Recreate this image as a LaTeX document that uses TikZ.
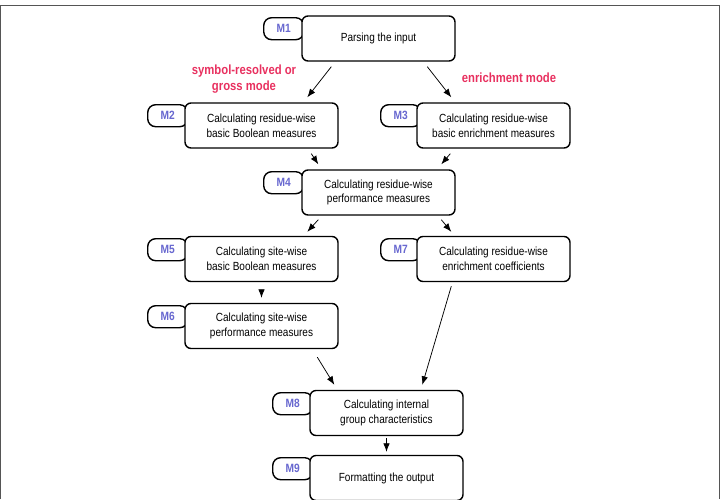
\documentclass[tikz,border=0pt]{standalone}
\usepackage{fontspec}
\setmainfont[FakeStretch=0.85]{Liberation Sans}
\usetikzlibrary{arrows.meta}
\definecolor{tagblue}{HTML}{6868D0}
\definecolor{modered}{HTML}{E8305F}
\definecolor{framegray}{HTML}{555555}
\tikzset{
  stepbox/.style={draw=black, line width=1.4pt, rounded corners=6pt, fill=white,
    minimum width=153pt, minimum height=45pt, inner sep=0pt, align=center,
    font=\fontsize{11.8}{14.7}\selectfont},
  tagbox/.style={draw=black, line width=1.4pt, rounded corners=8pt, fill=white,
    minimum width=40pt, minimum height=22pt, inner sep=0pt, anchor=north west,
    text width=36pt, align=center, text=tagblue, font=\fontsize{12}{14}\selectfont\bfseries},
  modelabel/.style={text=modered, align=center, font=\fontsize{13.3}{16}\selectfont\bfseries},
  arr/.style={draw=black, line width=0.75pt, -{Latex[length=8.5pt,width=6.5pt]}},
}
\begin{document}
\begin{tikzpicture}[x=1pt,y=-1pt]
\useasboundingbox (0,0) rectangle (720,499);
\begin{scope}
\clip (0,0) rectangle (720,499);
% frame
\draw[framegray, line width=1pt] (0.5,499) -- (0.5,5.5) -- (719.5,5.5) -- (719.5,499);
% tags
\node[tagbox] (t1) at (263,17) {M1};
\node[tagbox] (t2) at (147,104) {M2};
\node[tagbox] (t3) at (380,104) {M3};
\node[tagbox] (t4) at (263,171) {M4};
\node[tagbox] (t5) at (147,238) {M5};
\node[tagbox] (t7) at (380,238) {M7};
\node[tagbox] (t6) at (147,305) {M6};
\node[tagbox] (t8) at (272,392) {M8};
\node[tagbox] (t9) at (272,457) {M9};
% boxes
\node[stepbox] (m1) at (378.5,38.5) {Parsing the input};
\node[stepbox] (m2) at (261.5,125.5) {Calculating residue-wise\\basic Boolean measures};
\node[stepbox] (m3) at (493.5,125.5) {Calculating residue-wise\\basic enrichment measures};
\node[stepbox] (m4) at (378.5,192.5) {Calculating residue-wise\\performance measures};
\node[stepbox] (m5) at (261.5,259) {Calculating site-wise\\basic Boolean measures};
\node[stepbox] (m7) at (493.5,259) {Calculating residue-wise\\enrichment coefficients};
\node[stepbox] (m6) at (261.5,326) {Calculating site-wise\\performance measures};
\node[stepbox] (m8) at (386.5,413) {Calculating internal\\group characteristics};
\node[stepbox] (m9) at (386.5,478) {Formatting the output};
% mode labels
\node[modelabel] (l1) at (244,79) {symbol-resolved or\\gross mode};
\node[modelabel] (l2) at (509,78) {enrichment mode};
% connectors
\draw[arr] ([xshift=30pt,yshift=-5pt]m1.south west) -- ([xshift=123pt,yshift=5pt]m2.north west);
\draw[arr] ([xshift=126pt,yshift=-5pt]m1.south west) -- ([xshift=35pt,yshift=5pt]m3.north west);
\draw[arr] ([xshift=127pt,yshift=-5pt]m2.south west) -- ([xshift=17pt,yshift=5pt]m4.north west);
\draw[arr] ([xshift=34pt,yshift=-5pt]m3.south west) -- ([xshift=140pt,yshift=5pt]m4.north west);
\draw[arr] ([xshift=17pt,yshift=-4pt]m4.south west) -- ([xshift=123pt,yshift=4pt]m5.north west);
\draw[arr] ([xshift=140pt,yshift=-4pt]m4.south west) -- ([xshift=35pt,yshift=4pt]m7.north west);
\draw[arr] ([yshift=-8pt]m5.south) -- ([yshift=5pt]m6.north);
\draw[arr] ([xshift=133pt,yshift=-8pt]m6.south west) -- ([xshift=25pt,yshift=5pt]m8.north west);
\draw[arr] ([xshift=35pt,yshift=-4pt]m7.south west) -- ([xshift=113pt,yshift=5pt]m8.north west);
\draw[arr] ([yshift=-2pt]m8.south) -- ([yshift=3pt]m9.north);
\end{scope}
\end{tikzpicture}
\end{document}
